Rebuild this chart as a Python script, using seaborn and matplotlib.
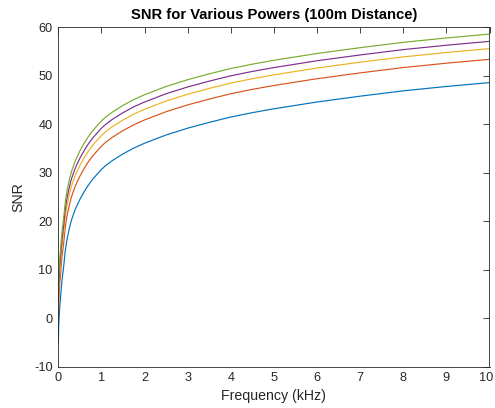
import numpy as np
import pandas as pd
import matplotlib
matplotlib.use("Agg")
import matplotlib.pyplot as plt
import matplotlib.transforms as mtransforms
import seaborn as sns

# frequency (kHz) and SNR, one list per power level
freq_khz = [0.001, 0.01, 0.03, 0.05, 0.07, 0.09, 0.12, 0.16, 0.2, 0.25, 0.3, 0.35, 0.4,
            0.5, 0.6, 0.7, 0.8, 0.9, 1.0, 1.1, 1.25, 1.5, 1.75, 2.0, 2.5, 3.0, 3.5,
            4.0, 4.5, 5.0, 6.0, 7.0, 8.0, 9.0, 10.0]
snr_p1 = [-5.1, -1.5, 2.0, 4.0, 6.3, 8.2, 10.3, 13.8, 16.2, 18.3, 20.1, 21.4, 22.6,
          24.5, 26.1, 27.5, 28.7, 29.7, 30.7, 31.5, 32.5, 33.9, 35.1, 36.1, 37.8, 39.2, 40.4,
          41.5, 42.4, 43.2, 44.6, 45.8, 46.9, 47.8, 48.6]
snr_p2 = [-0.3, 3.3, 6.8, 8.8, 11.1, 13.0, 15.1, 18.6, 21.0, 23.1, 24.9, 26.2, 27.4,
          29.3, 30.9, 32.3, 33.5, 34.5, 35.5, 36.3, 37.3, 38.7, 39.9, 40.9, 42.6, 44.0, 45.2,
          46.3, 47.2, 48.0, 49.4, 50.6, 51.7, 52.6, 53.4]
snr_p3 = [1.9, 5.5, 9.0, 11.0, 13.3, 15.2, 17.3, 20.8, 23.2, 25.3, 27.1, 28.4, 29.6,
          31.5, 33.1, 34.5, 35.7, 36.7, 37.7, 38.5, 39.5, 40.9, 42.1, 43.1, 44.8, 46.2, 47.4,
          48.5, 49.4, 50.2, 51.6, 52.8, 53.9, 54.8, 55.6]
snr_p4 = [3.4, 7.0, 10.5, 12.5, 14.8, 16.7, 18.8, 22.3, 24.7, 26.8, 28.6, 29.9, 31.1,
          33.0, 34.6, 36.0, 37.2, 38.2, 39.2, 40.0, 41.0, 42.4, 43.6, 44.6, 46.3, 47.7, 48.9,
          50.0, 50.9, 51.7, 53.1, 54.3, 55.4, 56.3, 57.1]
snr_p5 = [4.9, 8.5, 12.0, 14.0, 16.3, 18.2, 20.3, 23.8, 26.2, 28.3, 30.1, 31.4, 32.6,
          34.5, 36.1, 37.5, 38.7, 39.7, 40.7, 41.5, 42.5, 43.9, 45.1, 46.1, 47.8, 49.2, 50.4,
          51.5, 52.4, 53.2, 54.6, 55.8, 56.9, 57.8, 58.6]
series_names = ["P1", "P2", "P3", "P4", "P5"]

matlab_colors = ["#0072BD", "#D95319", "#EDB120", "#7E2F8E", "#77AC30"]

frames = []
for name, vals in zip(series_names, [snr_p1, snr_p2, snr_p3, snr_p4, snr_p5]):
    frames.append(pd.DataFrame({"f": freq_khz, "snr": vals, "power": name}))
df = pd.concat(frames, ignore_index=True)

sns.set_style("white")
plt.rcParams["font.family"] = ["Liberation Sans", "DejaVu Sans"]
plt.rcParams["axes.unicode_minus"] = False

fig = plt.figure(figsize=(4.95, 4.08), dpi=100)
ax = fig.add_axes([58.3 / 495, 1 - 366.8 / 408, (489.5 - 58.3) / 495, (366.8 - 27.3) / 408])

sns.lineplot(data=df, x="f", y="snr", hue="power", palette=matlab_colors,
             linewidth=0.85, legend=False, ax=ax, sort=False)

ax.set_xlim(0, 10)
ax.set_ylim(-10, 60)
ax.set_xticks(range(0, 11))
ax.set_yticks(range(-10, 61, 10))

dark = "#262626"
for s in ax.spines.values():
    s.set_color(dark)
    s.set_linewidth(0.6)
ax.tick_params(direction="in", length=4, width=0.6, colors=dark, labelsize=9.2,
               top=True, right=True, labelcolor=dark, pad=4)

# nudge the last x label so it stays inside the canvas
last = ax.get_xticklabels()[-1]
last.set_transform(last.get_transform() +
                   mtransforms.ScaledTranslation(-3 / 100, 0, fig.dpi_scale_trans))

ax.set_xlabel("Frequency (kHz)", fontsize=10.2, color=dark, labelpad=3)
ax.set_ylabel("SNR", fontsize=10.2, color=dark, labelpad=6)
ax.set_title("SNR for Various Powers (100m Distance)", fontsize=10.6,
             fontweight="bold", color="black", pad=6)

fig.savefig("out.png", dpi=100)
